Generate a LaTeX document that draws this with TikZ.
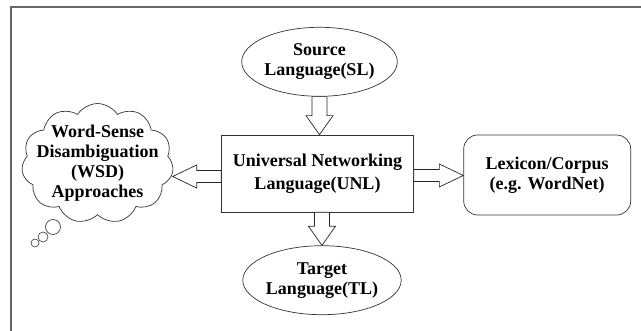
\documentclass[tikz,border=0pt]{standalone}
\usepackage{fontspec}
\setmainfont{Liberation Serif}
\usetikzlibrary{shapes.geometric,shapes.symbols,calc,positioning}
\tikzset{
  lang/.style={draw=black!80,ellipse,line width=0.7pt,inner sep=0pt,minimum width=136pt,minimum height=69pt,align=center},
  comp/.style={draw=black!80,rectangle,line width=0.7pt,minimum width=192pt,minimum height=77pt,align=center},
  lexbox/.style={draw=black!80,rectangle,rounded corners=14pt,line width=0.7pt,minimum width=167pt,minimum height=80pt,align=center},
  idea/.style={draw=black!80,cloud,cloud puffs=11,cloud puff arc=115,aspect=1.35,line width=0.7pt,inner sep=-12pt,minimum width=152pt,minimum height=113pt,align=center},
  bubble/.style={draw=black!80,circle,line width=0.6pt,inner sep=0pt},
  frame/.style={draw=black!60,line width=2pt},
  vsize/.code={\def\bsw{7.5pt}\def\bhw{13.5pt}\def\bhl{19pt}},
  hsize/.code={\def\bsw{6pt}\def\bhw{11.5pt}\def\bhl{24pt}},
  barrow/.style={draw=black!85,fill=white,line width=0.7pt,line join=miter,to path={
    let \p1=(\tikztostart), \p2=(\tikztotarget), \p3=($(\p2)!\bhl!(\p1)$) in
    ($(\p1)!\bsw!90:(\p2)$) -- ($(\p3)!\bsw!-90:(\p1)$) -- ($(\p3)!\bhw!-90:(\p1)$) -- (\p2)
    -- ($(\p3)!\bhw!90:(\p1)$) -- ($(\p3)!\bsw!90:(\p1)$) -- ($(\p1)!\bsw!-90:(\p2)$) -- cycle}}
}

\begin{document}
\begin{tikzpicture}[x=1pt,y=-1pt,font=\fontsize{18}{20}\selectfont\bfseries]
\useasboundingbox (0,0) rectangle (641,331);

% outer frame
\draw[frame] (11,331) |- (641,7);

\node[comp,font=\fontsize{18}{23}\selectfont\bfseries] (unl) at (317.5,173.5) {Universal Networking\\Language(UNL)};
\node[lang,above=38pt of unl,xshift=2pt] (src) {Source\\Language(SL)};
\node[lang,below=33pt of unl,xshift=4.5pt] (tgt) {Target\\Language(TL)};
\node[lexbox,right=49.5pt of unl,yshift=-1.5pt] (lex) {Lexicon/Corpus\\(e.g. WordNet)};
\node[idea,left=48.5pt of unl,yshift=10pt] (wsd) {Word-Sense\\Disambiguation\\(WSD)\\Approaches};

\node[bubble,minimum size=15pt] (bub1) at (53,227) {};
\node[bubble,minimum size=10pt] (bub2) at (43,237) {};
\node[bubble,minimum size=8pt] (bub3) at (35,243) {};

\draw[barrow,vsize] (src.south) to (src.south |- unl.north);
\draw[barrow,vsize] (tgt.north |- unl.south) to (tgt.north);
\draw[barrow,hsize] ([yshift=-3pt]unl.west) to ([yshift=-3pt]unl.west -| wsd.east);
\draw[barrow,hsize] ([yshift=-2pt]unl.east) to ([yshift=-2pt]unl.east -| lex.west);

\end{tikzpicture}
\end{document}
